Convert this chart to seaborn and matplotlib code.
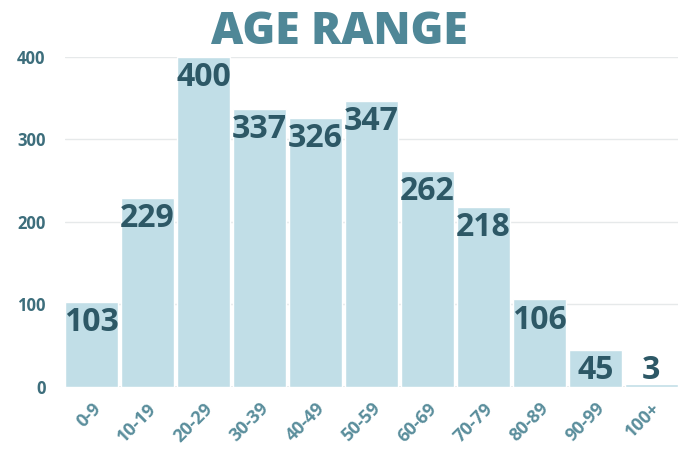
import matplotlib
matplotlib.use("Agg")
import matplotlib.pyplot as plt
import seaborn as sns
import pandas as pd

age_ranges = ["0-9", "10-19", "20-29", "30-39", "40-49", "50-59",
              "60-69", "70-79", "80-89", "90-99", "100+"]
counts = [103, 229, 400, 337, 326, 347, 262, 218, 106, 45, 3]
y_ticks = [0, 100, 200, 300, 400]

sns.set_theme(style="white")
plt.rcParams["font.family"] = ["Open Sans", "DejaVu Sans"]

bar_color = "#c1dee7"
label_color = "#2d5866"
title_color = "#4f8797"
tick_color = "#3d6e7c"

df = pd.DataFrame({"age": age_ranges, "count": counts})

fig = plt.figure(figsize=(6.78, 4.59), dpi=100)
ax = fig.add_axes([0.096, 0.157, 0.904, 0.719])

sns.barplot(data=df, x="age", y="count", color=bar_color, width=0.95,
            saturation=1, ax=ax)

ax.set_ylim(0, 400)
ax.set_xlim(-0.475, len(age_ranges) - 0.525)
ax.set_yticks(y_ticks)
ax.yaxis.grid(True, color="#e6e9ea", linewidth=1)
ax.set_axisbelow(True)
for s in ax.spines.values():
    s.set_visible(False)
ax.axhline(0, color="#e2e6e8", linewidth=1.2, zorder=0)

ax.set_xlabel("")
ax.set_ylabel("")
ax.tick_params(axis="y", length=0, pad=14, labelsize=12, labelcolor=tick_color)
ax.tick_params(axis="x", length=0, pad=9, labelsize=13, labelcolor="#5a8e9c")
for lab in ax.get_yticklabels():
    lab.set_fontweight("bold")
for lab in ax.get_xticklabels():
    lab.set_rotation(45)
    lab.set_ha("right")
    lab.set_rotation_mode("anchor")
    lab.set_fontweight("bold")

#value labels near the top of each bar (small bars keep a minimum height)
for i, v in enumerate(counts):
    ax.text(i, max(v, 45) - 5, str(v), ha="center", va="top",
            fontsize=23, fontweight="bold", color=label_color, clip_on=False)

fig.text(0.5, 0.93, "AGE RANGE", ha="center", va="center",
         fontsize=32, fontweight="heavy", color=title_color)

fig.savefig("out.png", dpi=100)
